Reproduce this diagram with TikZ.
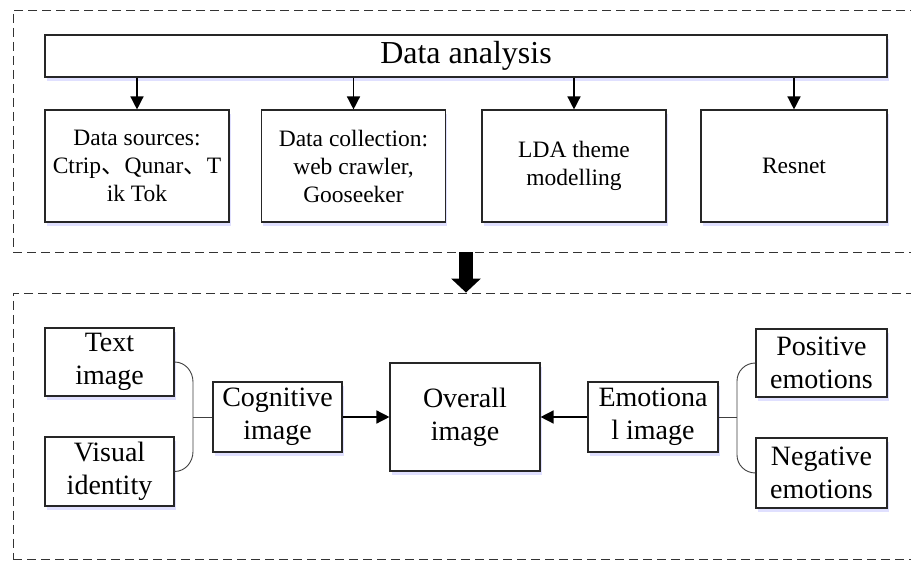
\documentclass[tikz,border=0pt]{standalone}
\usepackage{fontspec}
\setmainfont{Liberation Serif}
\newfontfamily\cjk{Noto Sans CJK SC}
\usetikzlibrary{arrows.meta,shadows}
\tikzset{
	frame/.style={draw=black!80,line width=0.9pt,dash pattern=on 9pt off 5pt},
	box/.style={draw=black!85,line width=1.1pt,fill=white,align=center,inner sep=2pt,
		drop shadow={shadow xshift=1.5pt,shadow yshift=-4pt,fill=blue!12,opacity=1}},
	toptext/.style={font=\fontsize{23.5}{28}\selectfont},
	lowtext/.style={font=\fontsize{28}{33}\selectfont},
	arr/.style={line width=1.4pt,-{Triangle[length=13pt,width=13pt]}},
	link/.style={line width=0.9pt,draw=black!75},
}
\begin{document}
\begin{tikzpicture}[x=1pt,y=-1pt]
	\useasboundingbox (0,0) rectangle (911,561);
	\clip (0,0) rectangle (911,561);
	\fill[white] (0,0) rectangle (911,561);
	\node[frame,minimum width=920pt,minimum height=242pt] (upper) at (473,131) {};
	\node[frame,minimum width=920pt,minimum height=266pt] (lower) at (473,426) {};

	\node[box,minimum width=842pt,minimum height=42pt,font=\fontsize{32}{36}\selectfont] (da) at (466,56) {Data analysis};
	\node[box,toptext,minimum width=184pt,minimum height=112pt] (src) at (137,166) {Data sources:\\ Ctrip{\cjk 、}Qunar{\cjk 、}T\\ ik Tok};
	\node[box,toptext,minimum width=184pt,minimum height=112pt] (col) at (353.5,166) {Data collection:\\ web crawler,\\ Gooseeker};
	\node[box,toptext,minimum width=184pt,minimum height=112pt] (lda) at (574,166) {LDA theme\\ modelling};
	\node[box,toptext,minimum width=186pt,minimum height=112pt] (res) at (794,166) {Resnet};
	\foreach \b in {src,col,lda,res}
		\draw[arr] (\b |- da.south) -- (\b.north);

	\draw[line width=14pt,-{Triangle[length=14pt,width=29pt]}] (da |- upper.south) -- (da |- lower.north);

	\node[box,lowtext,minimum width=129pt,minimum height=68pt] (txt) at (109.5,362) {Text\\ image};
	\node[box,lowtext,minimum width=129pt,minimum height=69pt] (vis) at (109.5,471.5) {Visual\\ identity};
	\node[box,lowtext,minimum width=129pt,minimum height=70pt] (cog) at (277.5,417) {Cognitive\\ image};
	\node[box,lowtext,minimum width=150pt,minimum height=108pt] (ovr) at (465,417) {Overall\\ image};
	\node[box,lowtext,minimum width=130pt,minimum height=70pt] (emo) at (653,417) {Emotiona\\ l image};
	\node[box,lowtext,minimum width=131pt,minimum height=68pt] (pos) at (821.5,363) {Positive\\ emotions};
	\node[box,lowtext,minimum width=131pt,minimum height=70pt] (neg) at (821.5,473) {Negative\\ emotions};
	\coordinate (lj) at (193,417);
	\coordinate (rj) at (737,417);

	\draw[link] (txt.east) to[out=0,in=90] ([yshift=-20pt]txt.east -| lj) -- ([yshift=20pt]vis.east -| lj) to[out=-90,in=0] (vis.east);
	\draw[link] (lj) -- (cog.west);
	\draw[link] (pos.west) to[out=180,in=90] ([yshift=-18pt]pos.west -| rj) -- ([yshift=18pt]neg.west -| rj) to[out=-90,in=180] (neg.west);
	\draw[link] (rj) -- (emo.east);
	\draw[arr] (cog.east) -- (ovr.west);
	\draw[arr] (emo.west) -- (ovr.east);
\end{tikzpicture}
\end{document}
